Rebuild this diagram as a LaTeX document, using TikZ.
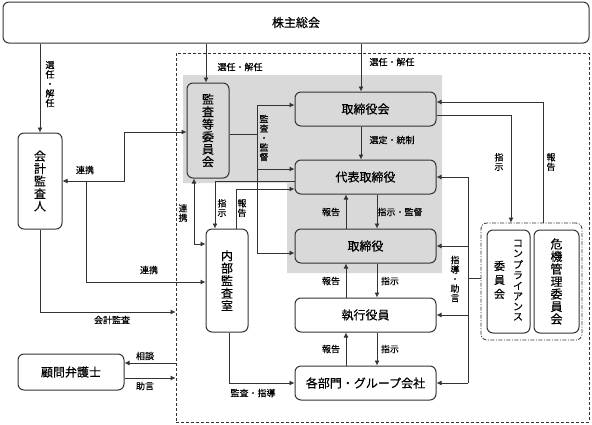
\documentclass[tikz,border=0pt]{standalone}
\usepackage{fontspec}
\setmainfont{Noto Sans CJK JP}[FakeBold=0.4]
\usepackage{tikz}
\usetikzlibrary{arrows.meta}
\tikzset{>={Latex[length=5pt,width=5pt]}}
\colorlet{panel}{black!15}
\colorlet{edge}{black!80}
\tikzset{
  box/.style={draw=edge, line width=1pt, rounded corners=6pt, fill=white,
    font=\fontsize{12}{12.5}\selectfont, align=center, inner sep=0pt},
  gbox/.style={box, fill=panel},
  wide/.style={minimum width=141pt, minimum height=34pt},
  frame/.style={draw=edge, line width=0.8pt, dash pattern=on 3pt off 2pt},
  group/.style={draw=edge, line width=0.8pt, rounded corners=6pt,
    dash pattern=on 4pt off 1.5pt on 1pt off 1.5pt},
  link/.style={draw=edge, line width=0.8pt},
  lab/.style={font=\fontsize{9}{9.5}\selectfont, inner sep=0pt, align=center},
}

\begin{document}
\begin{tikzpicture}[x=1pt,y=-1pt]

    \useasboundingbox (0,0) rectangle (592,424);

    % grey area of the board
    \fill[panel] (183,75) -- (442,75) -- (442,273) -- (287,273)
      -- (287,183) -- (183,183) -- cycle;

    \node[frame, minimum width=413pt, minimum height=369pt] (frame) at (382.5,237.5) {};

    \node[box, minimum width=586pt, minimum height=41pt] (soukai) at (296,22.5) {株主総会};

    \node[gbox, minimum width=42pt, minimum height=95pt] (kansa) at (208,130.5) {監\\査\\等\\委\\員\\会};
    \node[gbox, wide] (torikai) at (365.5,109) {取締役会};
    \node[gbox, wide] (daihyo) at (365.5,177) {代表取締役};
    \node[gbox, wide] (tori) at (365.5,246) {取締役};
    \node[box, wide] (shikko) at (365.5,315) {執行役員};
    \node[box, wide] (bumon) at (365.5,383) {各部門・グループ会社};

    \node[box, minimum width=44pt, minimum height=96pt] (kaikei) at (40,181) {会\\計\\監\\査\\人};
    \node[box, minimum width=42pt, minimum height=103pt] (naibu) at (227,280.5) {内\\部\\監\\査\\室};
    \node[box, minimum width=106pt, minimum height=36pt] (komon) at (71,372) {顧問弁護士};

    \node[group, minimum width=101pt, minimum height=117pt] (compg) at (531.5,281.5) {};
    \node[box, minimum width=43pt, minimum height=103pt] (comp) at (508.5,281.5)
      {\begin{tabular}{@{}c@{\hspace{8pt}}c@{}}
        \fontsize{11}{14}\selectfont\begin{tabular}[c]{@{}c@{}}委\\員\\会\end{tabular} &
        \fontsize{10}{10}\selectfont\begin{tabular}[c]{@{}c@{}}コ\\ン\\プ\\ラ\\イ\\ア\\ン\\ス\end{tabular}
      \end{tabular}};
    \node[box, minimum width=45pt, minimum height=103pt] (kiki) at (556.5,281.5) {危\\機\\管\\理\\委\\員\\会};

    % election
    \coordinate (spine) at (361,0);
    \coordinate (kq) at (206,0);
    \draw[link,->] (kaikei.north |- soukai.south) -- (kaikei.north);
    \draw[link,->] (kq |- soukai.south) -- (kq |- kansa.north);
    \draw[link,->] (spine |- soukai.south) -- (spine |- torikai.north);
    \draw[link,->] (spine |- torikai.south) -- (spine |- daihyo.north);

    % report and instruction down the line
    \coordinate (up) at (346,0);
    \coordinate (dn) at (377,0);
    \foreach \a/\b in {daihyo/tori,tori/shikko,shikko/bumon}{
      \draw[link,->] (up |- \b.north) -- (up |- \a.south);
      \draw[link,->] (dn |- \a.south) -- (dn |- \b.north);
    }

    % committees
    \coordinate (sj) at (511,115);
    \coordinate (hk) at (543,102);
    \coordinate (jo) at (468,278);
    \draw[link,->] (sj -| torikai.east) -- (sj) -- (sj |- compg.north);
    \draw[link,->] (hk |- compg.north) -- (hk) -- (hk -| torikai.east);
    \draw[link] (jo -| compg.west) -- (jo);
    \draw[link] (jo |- daihyo.east) -- (jo |- bumon.east);
    \foreach \n in {daihyo,tori,shikko,bumon}
      \draw[link,->] (jo |- \n.east) -- (\n.east);

    % audit committee
    \coordinate (kb) at (257,134);
    \coordinate (kb1) at (257,105);
    \coordinate (kb2) at (257,169);
    \coordinate (kb3) at (257,253);
    \draw[link] (kb -| kansa.east) -- (kb);
    \draw[link] (kb1) -- (kb3);
    \draw[link,->] (kb1) -- (kb1 -| torikai.west);
    \draw[link,->] (kb2) -- (kb2 -| daihyo.west);
    \draw[link,->] (kb3) -- (kb3 -| tori.west);

    % internal audit
    \coordinate (ns) at (215,181);
    \coordinate (nh) at (236,189);
    \coordinate (nr) at (194,244);
    \coordinate (nk) at (229,383);
    \draw[link,->] (ns -| daihyo.west) -- (ns) -- (ns |- naibu.north);
    \draw[link,->] (nh |- naibu.north) -- (nh) -- (nh -| daihyo.west);
    \draw[link,<->] (nr |- kansa.south) -- (nr) -- (nr -| naibu.west);
    \draw[link,->] (nk |- naibu.south) -- (nk) -- (nk -| bumon.west);

    % accounting auditor
    \coordinate (kr1) at (124,132);
    \coordinate (kr2) at (86,282);
    \coordinate (ka) at (40,312);
    \draw[link,<->] (kaikei.east) -| (kr1) -- (kr1 -| kansa.west);
    \draw[link,->] (kaikei.east -| kr2) -- (kr2) -- (kr2 -| naibu.west);
    \draw[link,->] (kaikei.south) -- (ka) -- (ka -| frame.west);

    % lawyer
    \coordinate (sd) at (0,363);
    \coordinate (jg) at (0,378);
    \draw[link,->] (frame.west |- sd) -- (komon.east |- sd);
    \draw[link,->] (komon.east |- jg) -- (frame.west |- jg);

    % labels
    \node[lab] (l1) at (50,84) {選\\任\\・\\解\\任};
    \node[lab] (l2) at (240,67) {選任・解任};
    \node[lab] (l3) at (392,62) {選任・解任};
    \node[lab] (l4) at (392,140) {選定・統制};
    \node[lab] (l5) at (264,138) {監\\査\\・\\監\\督};
    \node[lab] (l6) at (499,162) {指\\示};
    \node[lab] (l7) at (551,162) {報\\告};
    \node[lab] (l8) at (331,212) {報告};
    \node[lab] (l9) at (400,212) {指示・監督};
    \node[lab] (l10) at (331,281) {報告};
    \node[lab] (l11) at (390,281) {指示};
    \node[lab] (l12) at (331,349) {報告};
    \node[lab] (l13) at (390,349) {指示};
    \node[lab] (l14) at (455,279) {指\\導\\・\\助\\言};
    \node[lab] (l15) at (85,170) {連携};
    \node[lab] (l16) at (149,270) {連携};
    \node[lab] (l17) at (183,213) {連\\携};
    \node[lab] (l18) at (222,208) {指\\示};
    \node[lab] (l19) at (242,208) {報\\告};
    \node[lab] (l20) at (112,320) {会計監査};
    \node[lab] (l21) at (145,356) {相談};
    \node[lab] (l22) at (145,386) {助言};
    \node[lab] (l23) at (253,393) {監査・指導};

\end{tikzpicture}
\end{document}
